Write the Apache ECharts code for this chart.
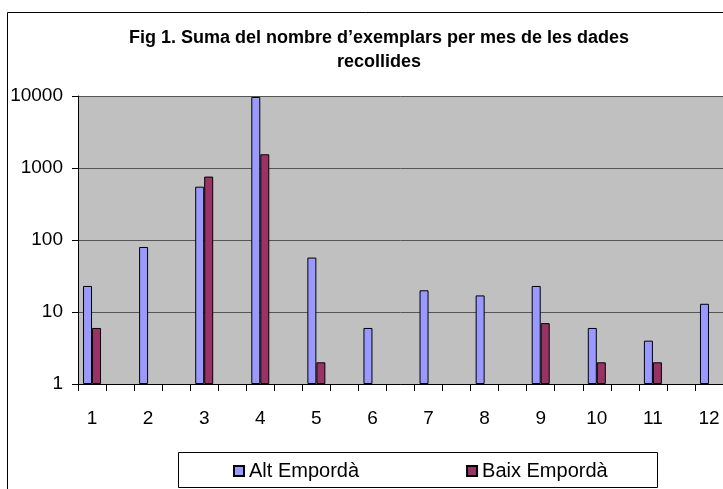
<!DOCTYPE html>
<html>
<head>
<meta charset="utf-8">
<script src="https://cdn.jsdelivr.net/npm/echarts@6/dist/echarts.min.js"></script>
<style>
  html, body { margin: 0; padding: 0; background: #fff; }
  #main { width: 723px; height: 489px; }
</style>
</head>
<body>
<div id="main"></div>
<script>
// months and counts (log scale, '-' = no data)
var months = ['1', '2', '3', '4', '5', '6', '7', '8', '9', '10', '11', '12'];
var altEmporda = [23, 80, 550, 9700, 57, 6, 20, 17, 23, 6, 4, 13];
var baixEmporda = [6, '-', 760, 1550, 2, '-', '-', '-', 7, 2, 2, '-'];
var yTicks = [1, 10, 100, 1000, 10000];

// the original sheet leaves an empty slot between each month
function spread(arr, fill) {
    var out = [];
    for (var i = 0; i < arr.length; i++) {
        out.push(arr[i]);
        if (i < arr.length - 1) out.push(fill);
    }
    return out;
}

var font = 'Liberation Sans, Arial, sans-serif';
var myChart = echarts.init(document.getElementById('main'));
var option = {
    animation: false,
    backgroundColor: '#fff',
    title: {
        text: 'Fig 1. Suma del nombre d\u2019exemplars per mes de les dades\nrecollides',
        left: 374,
        textAlign: 'center',
        top: 21,
        textStyle: {
            fontFamily: font,
            fontSize: 18,
            fontWeight: 'bold',
            color: '#000',
            lineHeight: 24
        }
    },
    graphic: [
        {
            type: 'rect',
            shape: { x: 7.5, y: 12.5, width: 800, height: 600 },
            style: { fill: null, stroke: '#000', lineWidth: 1 },
            z: -1
        },
        {
            type: 'rect',
            shape: { x: 178.5, y: 452.5, width: 479, height: 35 },
            style: { fill: '#fff', stroke: '#000', lineWidth: 1 }
        }
    ],
    legend: {
        left: 233,
        top: 461,
        icon: 'rect',
        itemWidth: 10,
        itemHeight: 10,
        itemGap: 107,
        padding: 0,
        z: 10,
        textStyle: { fontFamily: font, fontSize: 20, color: '#000' },
        data: ['Alt Empordà', 'Baix Empordà']
    },
    grid: {
        left: 78,
        top: 96,
        right: -7,
        bottom: 105,
        show: true,
        backgroundColor: '#c0c0c0',
        borderWidth: 0
    },
    xAxis: {
        type: 'category',
        data: spread(months, ''),
        boundaryGap: true,
        axisLine: { lineStyle: { color: '#000', width: 1 } },
        axisTick: { show: true, length: 7, interval: 0, lineStyle: { color: '#000' } },
        axisLabel: {
            interval: 0,
            margin: 25,
            fontFamily: font,
            fontSize: 19,
            color: '#000'
        }
    },
    yAxis: {
        type: 'log',
        logBase: 10,
        min: yTicks[0],
        max: yTicks[yTicks.length - 1],
        axisLine: { show: true, lineStyle: { color: '#000', width: 1 } },
        axisTick: { show: true, length: 6, lineStyle: { color: '#000' } },
        axisLabel: {
            margin: 15,
            fontFamily: font,
            fontSize: 19,
            color: '#000',
            formatter: function (v) { return String(Math.round(v)); }
        },
        splitLine: { show: true, lineStyle: { color: '#555', width: 1 } }
    },
    series: [
        {
            name: 'Alt Empordà',
            type: 'bar',
            barWidth: 9,
            barGap: '0%',
            itemStyle: { color: '#9999ff', borderColor: '#000', borderWidth: 1 },
            data: spread(altEmporda, '-')
        },
        {
            name: 'Baix Empordà',
            type: 'bar',
            barWidth: 9,
            barGap: '0%',
            itemStyle: { color: '#993366', borderColor: '#000', borderWidth: 1 },
            data: spread(baixEmporda, '-')
        }
    ]
};
myChart.setOption(option);
</script>
</body>
</html>
